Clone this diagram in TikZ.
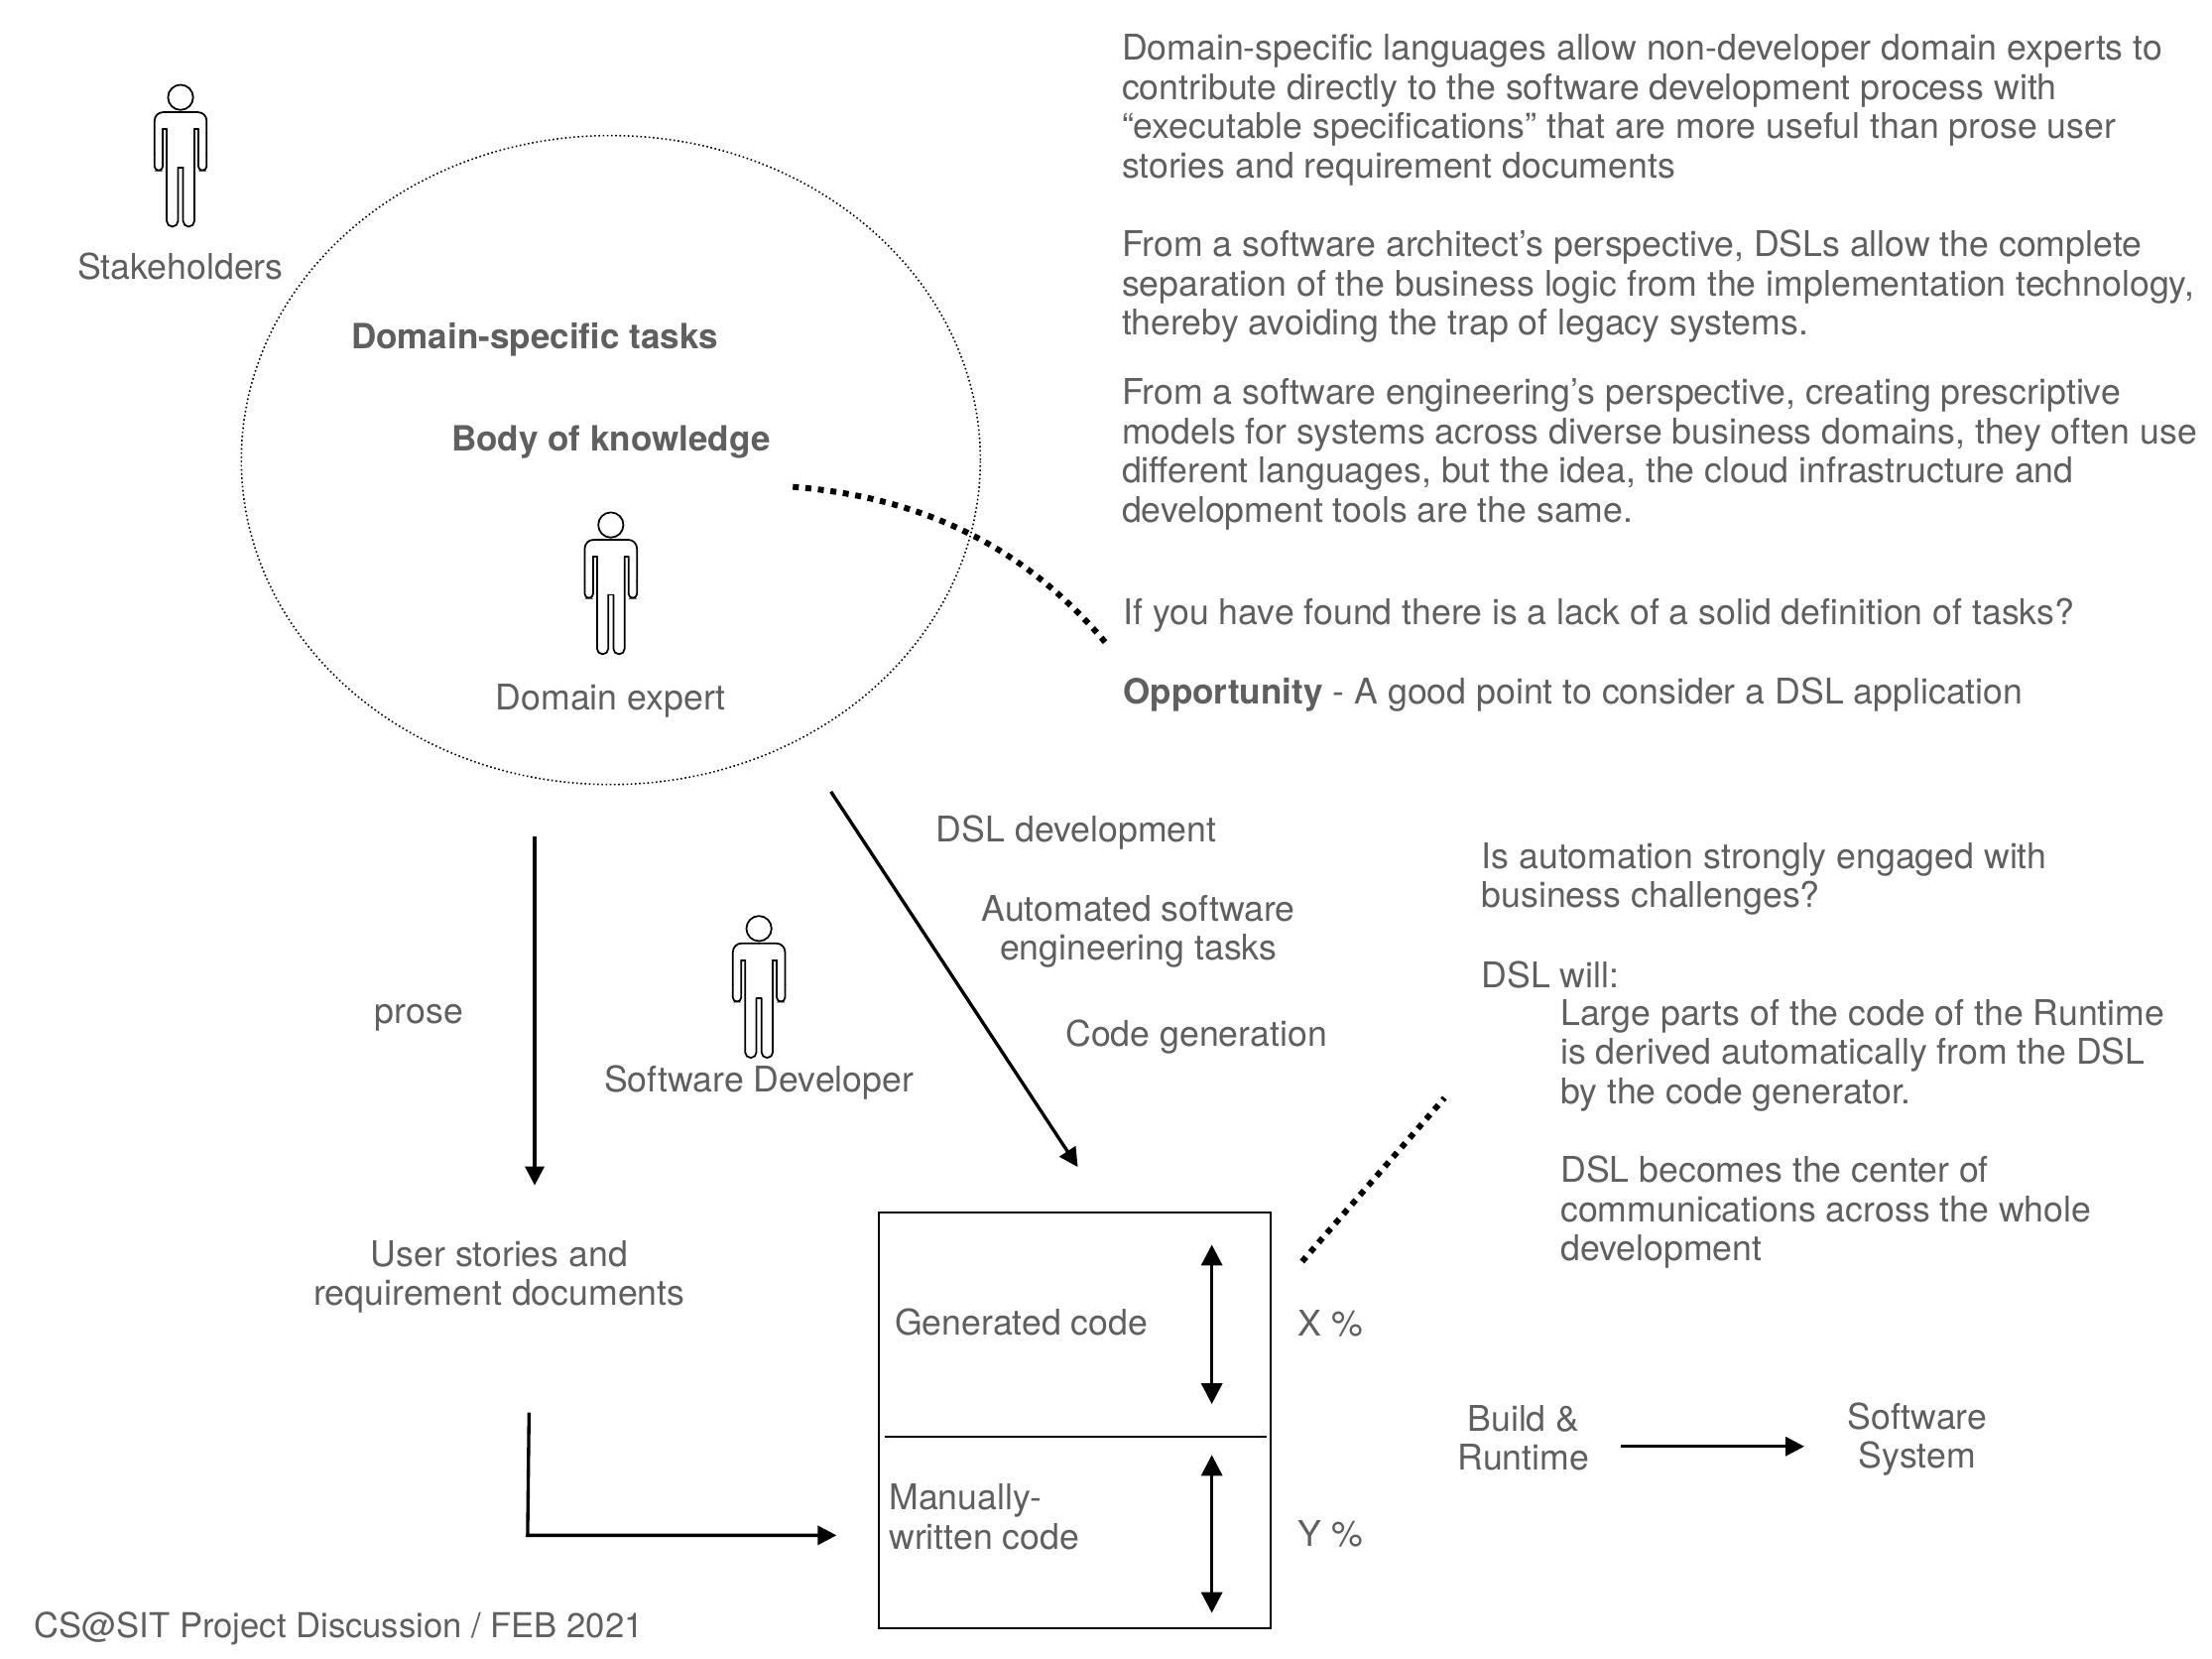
\documentclass[tikz,border=0pt]{standalone}
\usepackage{fontspec}
\setmainfont{TeX Gyre Heros}
\usepackage{xcolor}
\usetikzlibrary{arrows.meta, shapes.geometric}
\definecolor{txtgray}{HTML}{5F5F5F}
\newcommand{\BoldTxt}[1]{{\fontsize{19.95}{22.5}\selectfont\bfseries #1}}
\tikzset{
TXT/.style = {
        text=txtgray,
        inner sep=0pt,
        align=left,
        font=\fontsize{20.3}{22.5}\selectfont
            },
TXTL/.style = {TXT, anchor=west},
TXTC/.style = {TXT, align=center},
ARW/.style = {
        line width=1.9pt,
        -{Triangle[length=0.38cm,width=0.38cm]}
            },
DARW/.style = {
        line width=1.9pt,
        {Triangle[length=0.42cm,width=0.42cm]}-%
        {Triangle[length=0.42cm,width=0.42cm]}
            },
DOTS/.style = {
        line width=0.12cm,
        dash pattern=on 0.12cm off 0.134cm
            },
person/.pic = {
        \draw[line width=1pt] (0,0) circle (8.9);
        \foreach \s in {-1,1} {
            % shoulder, arm, leg and the two sharp notches
            \draw[line width=1pt, line cap=round, rounded corners=5pt]
                (0,10.5) --
                (\s*18.5,10.5) --
                (\s*18.5,40);
            \draw[line width=1pt, line cap=round, rounded corners=2.4pt]
                (\s*18.5,40) --
                (\s*18.5,51.8) --
                (\s*12.6,51.8) --
                (\s*12.6,22.4);
            \draw[line width=1pt, line cap=round]
                (\s*12.6,22.4) --
                (\s*9.8,22.4);
            \draw[line width=1pt, line cap=round, rounded corners=3.2pt]
                (\s*9.8,22.4) --
                (\s*9.8,91.6) --
                (\s*1.8,91.6) --
                (\s*1.8,49.6);
            \draw[line width=1pt, line cap=round]
                (\s*1.8,49.6) --
                (0,49.6);
        }
    }
}

\begin{document}
\begin{tikzpicture}[x=0.02844cm, y=-0.02844cm]

\useasboundingbox (0,0) rectangle (1568,1175.6);

%%% Defining points:

\coordinate (P1) at (128,69);
\coordinate (P2) at (433,372);
\coordinate (P3) at (538,658);

\coordinate (A1) at (379,593);
\coordinate (A2) at (379,840);
\coordinate (B1) at (589,561);
\coordinate (B2) at (764,827);
\coordinate (C1) at (375,1001);
\coordinate (C2) at (374,1088);
\coordinate (C3) at (593,1088);
\coordinate (D1) at (859,882);
\coordinate (D2) at (859,995);
\coordinate (E1) at (859,1031);
\coordinate (E2) at (859,1143);
\coordinate (F1) at (1149,1025);
\coordinate (F2) at (1279,1025);
\coordinate (G1) at (627,1018);
\coordinate (G2) at (898,1018);
\coordinate (H1) at (562,345);
\coordinate (H2) at (785,457);
\coordinate (J1) at (923,894);
\coordinate (J2) at (1024,778);

%%% The circle and the people:

\node[
     draw=black,
     ellipse,
     line width=0.9pt,
     dash pattern=on 0.9pt off 1.5pt,
     minimum width=14.9cm,
     minimum height=13.08cm,
     inner sep=0pt,
     ] (Domain) at (433,326) {};

\pic at (P1) {person};
\pic at (P2) {person};
\pic at (P3) {person};

%%% Labels:

\node[TXTC] (Stake) at (128,189) {Stakeholders};
\node[TXTC] (Tasks) at (379,241) {\BoldTxt{Domain-specific tasks}};
\node[TXTC] (Know) at (433,313) {\BoldTxt{Body of knowledge}};
\node[TXTC] (Expert) at (433,497) {Domain expert};
\node[TXTC] (Dev) at (538,767) {Software Developer};
\node[TXTC] (Prose) at (297,721) {prose};
\node[TXTC] (DslDev) at (763,590) {DSL development};
\node[TXTC] (Auto) at (807,660) {Automated software\\engineering tasks};
\node[TXTC] (CodeGen) at (848,735) {Code generation};
\node[TXTC] (Stories) at (354,905) {User stories and\\requirement documents};
\node[TXTC] (Build) at (1080,1019) {Build \&\\Runtime};
\node[TXTC] (System) at (1359,1020) {Software\\System};

\node[TXTL] (Gen) at (634,937) {Generated code};
\node[TXTL] (Manual) at (630,1075) {Manually-\\written code};
\node[TXTL] (XP) at (920,938) {X \%};
\node[TXTL] (YP) at (920,1087) {Y \%};
\node[TXTL, font=\fontsize{19.7}{22.5}\selectfont] (Foot) at (24,1154) {CS@SIT Project Discussion / FEB 2021};

%%% Text on the right:

\node[TXTL] (T1) at (795,78) {Domain-specific languages allow non-developer domain experts to\\
contribute directly to the software development process with\\
“executable specifications” that are more useful than prose user\\
stories and requirement documents};
\node[TXTL] (T2) at (795,203) {From a software architect’s perspective, DSLs allow the complete\\
separation of the business logic from the implementation technology,\\
thereby avoiding the trap of legacy systems.};
\node[TXTL] (T3) at (795,322) {From a software engineering’s perspective, creating prescriptive\\
models for systems across diverse business domains, they often use\\
different languages, but the idea, the cloud infrastructure and\\
development tools are the same.};
\node[TXTL] (T4) at (796,436) {If you have found there is a lack of a solid definition of tasks?};
\node[TXTL] (T5) at (796,492) {\BoldTxt{Opportunity} - A good point to consider a DSL application};
\node[TXTL] (T6) at (1050,623) {Is automation strongly engaged with\\business challenges?};
\node[TXTL] (T7) at (1050,691) {DSL will:};
\node[TXTL] (T8) at (1106,748) {Large parts of the code of the Runtime\\
is derived automatically from the DSL\\
by the code generator.};
\node[TXTL] (T9) at (1106,859) {DSL becomes the center of\\
communications across the whole\\
development};

%%% The code box:

\node[
     draw=black,
     line width=1.1pt,
     minimum width=7.906cm,
     minimum height=8.39cm,
     inner sep=0pt,
     ] (Code) at (762,1006.5) {};

\draw[line width=0.8pt] (G1) -- (G2);

%%% Arrows:

\draw[ARW] (A1) -- (A2);
\draw[ARW] (B1) -- (B2);
\draw[ARW] (C1) -- (C2) -- (C3);
\draw[ARW] (F1) -- (F2);
\draw[DARW] (D1) -- (D2);
\draw[DARW] (E1) -- (E2);

%%% Dotted lines:

\draw[DOTS] (H1) .. controls (650,352) and (725,385) .. (H2);
\draw[DOTS] (J1) -- (J2);

\end{tikzpicture}
\end{document}
